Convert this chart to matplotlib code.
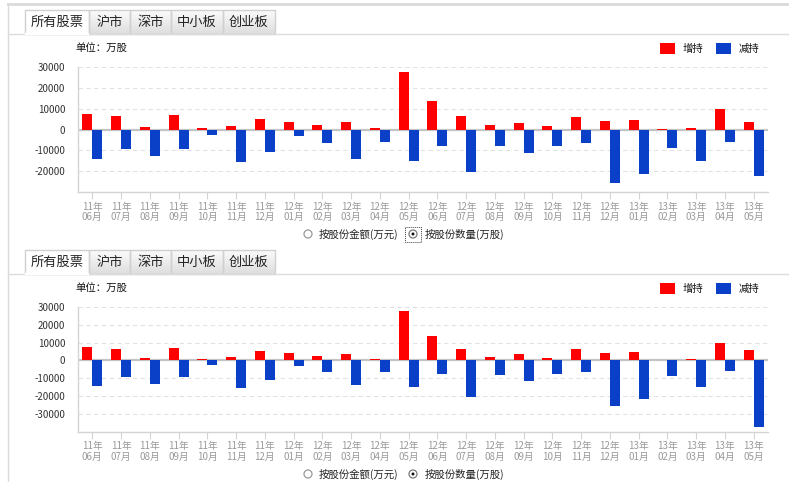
#!/usr/bin/env python3
# =============================================================================
# plot.py : two panels of monthly holding changes (增持 / 减持), 万股
# =============================================================================
import numpy as np
import matplotlib
matplotlib.use("Agg")
import matplotlib.pyplot as plt
from matplotlib.patches import Rectangle, Circle
from matplotlib.colors import LinearSegmentedColormap

plt.rcParams['font.family'] = ['Noto Sans CJK SC', 'DejaVu Sans']

# =============================================================================
# data
# =============================================================================
months = ['11年\n06月', '11年\n07月', '11年\n08月', '11年\n09月', '11年\n10月',
          '11年\n11月', '11年\n12月', '12年\n01月', '12年\n02月', '12年\n03月',
          '12年\n04月', '12年\n05月', '12年\n06月', '12年\n07月', '12年\n08月',
          '12年\n09月', '12年\n10月', '12年\n11月', '12年\n12月', '13年\n01月',
          '13年\n02月', '13年\n03月', '13年\n04月', '13年\n05月']

top_buy = [7500, 6350, 1270, 7000, 800, 1900, 5100, 3800, 2200, 3650, 500, 27600,
           13650, 6350, 2060, 3200, 1600, 6200, 4000, 4450, 400, 800, 9700, 3650]
top_sell = [-14100, -9400, -12900, -9200, -2500, -15600, -11000, -2900, -6500, -14000,
            -6200, -15200, -7800, -20500, -8100, -11400, -7800, -6500, -25600, -21400,
            -8900, -15100, -6200, -22200]

bottom_buy = [7700, 6350, 1500, 7100, 750, 2050, 5400, 3900, 2400, 3550, 560, 27850,
              13830, 6540, 2060, 3360, 1500, 6170, 4110, 4490, 370, 930, 9720, 5800]
bottom_sell = [-14200, -9350, -13100, -9200, -2600, -15500, -10850, -3000, -6350, -14000,
               -6350, -15140, -7660, -20560, -8220, -11400, -7660, -6730, -25600, -21700,
               -8970, -15140, -6170, -37200]

top_yticks = [30000, 20000, 10000, 0, -10000, -20000]
bottom_yticks = [30000, 20000, 10000, 0, -10000, -20000, -30000]

tabs = ['所有股票', '沪市', '深市', '中小板', '创业板']
legend_labels = ['增持', '减持']
radio_labels = ['按股份金额(万元)', '按股份数量(万股)']
unit_label = '单位：万股'

RED = '#ff0000'
BLUE = '#0a40c8'
W, H = 789, 482

fig = plt.figure(figsize=(W / 100, H / 100), dpi=100)
bg = fig.add_axes([0, 0, 1, 1], zorder=0)
bg.axis('off')
tab_cmap = LinearSegmentedColormap.from_list('tab', ['#fbfbfb', '#dedede'])


def px_axes(left, top, right, bottom):
    return fig.add_axes([left / W, 1 - bottom / H, (right - left) / W, (bottom - top) / H],
                        zorder=2)


def draw_panel(y0, buy, sell, plot_bottom, ymin, yticks, focus_box):
    """draw tabs, chart, legend and radio row of one panel"""
    # tabs
    tab_x = [25, 89, 130, 171, 223, 275]
    for i, name in enumerate(tabs):
        x1, x2 = tab_x[i], tab_x[i + 1]
        if i == 0:
            bg.add_patch(Rectangle((x1, y0 + 10), x2 - x1, 24, facecolor='white',
                                   edgecolor='#d0d0d0', lw=1, zorder=3))
        else:
            bg.imshow(np.linspace(0, 1, 24).reshape(-1, 1), cmap=tab_cmap, aspect='auto',
                      extent=(x1, x2, y0 + 34, y0 + 10), zorder=2)
            bg.add_patch(Rectangle((x1, y0 + 10), x2 - x1, 24, facecolor='none',
                                   edgecolor='#d0d0d0', lw=1, zorder=3))
        bg.text((x1 + x2) / 2, y0 + 22.5, name, ha='center', va='center',
                fontsize=9.5, color='#222222', zorder=4)
    bg.plot([8, W], [y0 + 34, y0 + 34], color='#dcdcdc', lw=1, zorder=3)
    bg.plot([25.6, 88.4], [y0 + 34, y0 + 34], color='white', lw=1.6, zorder=4)

    bg.text(75, y0 + 48, unit_label, ha='left', va='center', fontsize=7.5, color='#111111')

    # legend
    for (lx, color), label in zip([(660, RED), (716, BLUE)], legend_labels):
        bg.add_patch(Rectangle((lx, y0 + 43), 15, 11, facecolor=color, edgecolor='none'))
        bg.text(lx + 23, y0 + 48.5, label, ha='left', va='center', fontsize=7.5,
                color='#111111')

    # chart
    ax = px_axes(78, y0 + 67, 768, plot_bottom)
    ax.set_facecolor('none')
    x = np.arange(len(months))
    w = 0.35
    ax.bar(x - w / 2, buy, w, color=RED, zorder=3)
    ax.bar(x + w / 2, sell, w, color=BLUE, zorder=3)
    ax.axhline(0, color='#c4c4c4', lw=1.6, zorder=2)
    ax.set_xlim(-0.5, len(months) - 0.5)
    ax.set_ylim(ymin, 30000)
    ax.set_yticks(yticks)
    ax.set_yticklabels([str(v) for v in yticks])
    ax.yaxis.grid(True, linestyle=(0, (4, 3)), color='#e2e2e2', lw=0.8, zorder=1)
    ax.set_xticks(x)
    ax.set_xticklabels(months, linespacing=1.05)
    ax.tick_params(axis='x', length=5, color='#d4d4d4', labelcolor='#9a9a9a',
                   labelsize=7, pad=2)
    ax.tick_params(axis='y', length=0, labelcolor='#333333', labelsize=7, pad=9)
    for side in ['top', 'right']:
        ax.spines[side].set_visible(False)
    for side in ['left', 'bottom']:
        ax.spines[side].set_color('#d4d4d4')
        ax.spines[side].set_linewidth(1)

    # radio row
    ry = y0 + 234
    bg.add_patch(Circle((308, ry), 4, facecolor='white', edgecolor='#9a9a9a', lw=0.9))
    bg.text(319, ry, radio_labels[0], ha='left', va='center', fontsize=7.5, color='#222222')
    bg.add_patch(Circle((413, ry), 4, facecolor='white', edgecolor='#7a7a7a', lw=0.9))
    bg.add_patch(Circle((413, ry), 1.5, facecolor='#111111', edgecolor='none'))
    bg.text(425, ry, radio_labels[1], ha='left', va='center', fontsize=7.5, color='#222222')
    if focus_box:
        bg.add_patch(Rectangle((405, ry - 7), 16, 15, facecolor='none', edgecolor='#444444',
                               lw=0.7, linestyle=(0, (1, 1))))


# outer frame
bg.plot([8, W], [4, 4], color='#dadada', lw=2)
bg.plot([8, 8], [4, H], color='#dadada', lw=1)

draw_panel(0, top_buy, top_sell, 192, -30000, top_yticks, True)
draw_panel(240, bottom_buy, bottom_sell, 431.5, -40000, bottom_yticks, False)

bg.set_xlim(0, W)
bg.set_ylim(H, 0)

fig.savefig('out.png', dpi=100)
